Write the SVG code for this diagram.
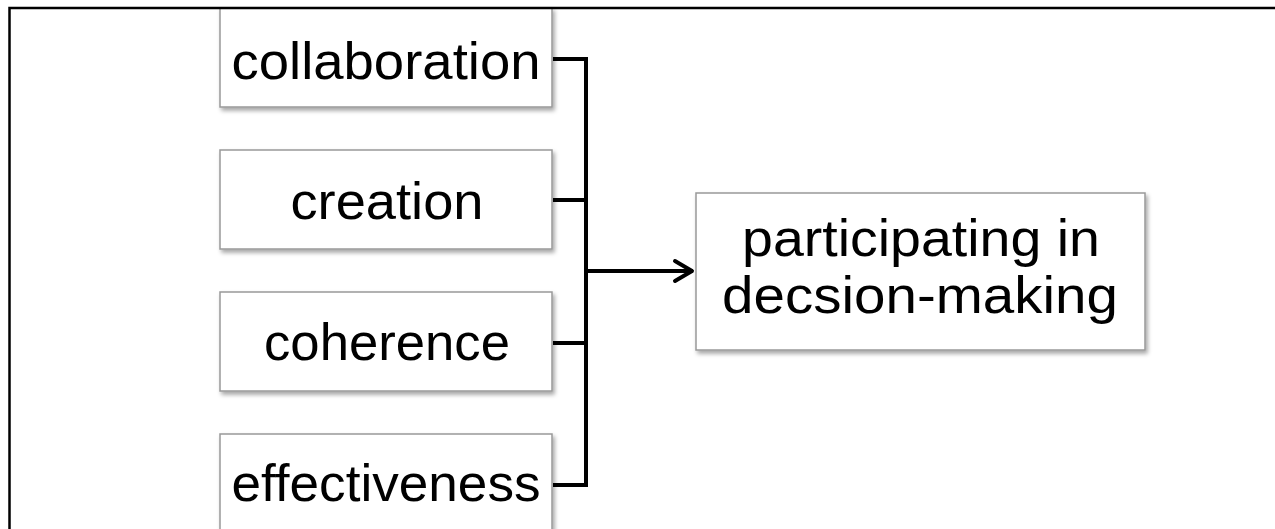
<svg xmlns="http://www.w3.org/2000/svg" width="1275" height="529" viewBox="0 0 1275 529">
<defs>
<filter id="sh" x="-10%" y="-10%" width="125%" height="130%">
<feDropShadow dx="2" dy="3" stdDeviation="2" flood-color="#000" flood-opacity="0.35"/>
</filter>
<marker id="arr" viewBox="0 0 26 26" refX="22" refY="13" markerWidth="26" markerHeight="26" markerUnits="userSpaceOnUse" orient="auto">
<path d="M4,3 L21,13 L4,23" fill="none" stroke="#000" stroke-width="4" stroke-linecap="round" stroke-linejoin="round"/>
</marker>
</defs>
<style>
.box{fill:#fff;stroke:#999;stroke-width:1.5;filter:url(#sh)}
.t{font-family:"Liberation Sans","Open Sans",sans-serif;font-size:52px;fill:#000;text-anchor:middle}
.c{fill:none;stroke:#000;stroke-width:4}
</style>
<rect width="1275" height="529" fill="#fff"/>
<g id="collaboration"><rect class="box" x="220" y="8" width="332" height="99"/><text class="t" x="386" y="79" textLength="309" lengthAdjust="spacingAndGlyphs">collaboration</text></g>
<g id="creation"><rect class="box" x="220" y="150" width="332" height="99"/><text class="t" x="387" y="219" textLength="193" lengthAdjust="spacingAndGlyphs">creation</text></g>
<g id="coherence"><rect class="box" x="220" y="292" width="332" height="99"/><text class="t" x="387" y="360" textLength="246" lengthAdjust="spacingAndGlyphs">coherence</text></g>
<g id="effectiveness"><rect class="box" x="220" y="434" width="332" height="110"/><text class="t" x="386" y="501" textLength="309" lengthAdjust="spacingAndGlyphs">effectiveness</text></g>
<g id="participating"><rect class="box" x="696" y="193" width="449" height="157"/><text class="t" x="921" y="256" textLength="358" lengthAdjust="spacingAndGlyphs">participating in</text><text class="t" x="920" y="313" textLength="396" lengthAdjust="spacingAndGlyphs">decsion-making</text></g>
<g id="connectors">
<path class="c" d="M553,59 H586 V485 H553 M553,200 H586 M553,343 H586"/>
<path class="c" d="M586,271 H693" marker-end="url(#arr)"/>
</g>
<g id="frame"><path d="M1275,8 H9.5 V529" fill="none" stroke="#000" stroke-width="2.5"/></g>
</svg>
